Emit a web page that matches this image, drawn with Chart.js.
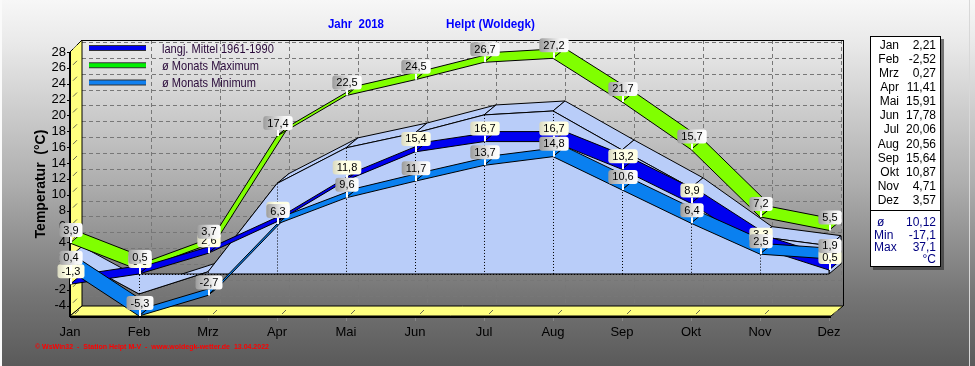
<!DOCTYPE html>
<html>
<head>
<meta charset="utf-8">
<script src="https://cdn.jsdelivr.net/npm/chart.js@4.4.1/dist/chart.umd.min.js"></script>
<style>
  html, body { margin: 0; padding: 0; background: #888; }
  canvas { display: block; }
</style>
</head>
<body>
<canvas id="chart" width="975" height="366"></canvas>
<script>
const months = ['Jan', 'Feb', 'Mrz', 'Apr', 'Mai', 'Jun', 'Jul', 'Aug', 'Sep', 'Okt', 'Nov', 'Dez'];
// Monatsmittel 2018 (Flaeche + Tabelle rechts)
const mean2018 = [2.21, -2.52, 0.27, 11.41, 15.91, 17.78, 20.06, 20.56, 15.64, 10.87, 4.71, 3.57];
const mittel6190 = [-1.3, 0.0, 2.6, 6.6, 11.8, 15.4, 16.7, 16.7, 13.2, 8.9, 3.3, 0.5];
const maxAvg = [3.9, 0.5, 3.7, 17.4, 22.5, 24.5, 26.7, 27.2, 21.7, 15.7, 7.2, 5.5];
const minAvg = [0.4, -5.3, -2.7, 6.3, 9.6, 11.7, 13.7, 14.8, 10.6, 6.4, 2.5, 1.9];
const yTicks = [-4, -2, 0, 2, 4, 6, 8, 10, 12, 14, 16, 18, 20, 22, 24, 26, 28];
const statLabels = ['ø', 'Min', 'Max'];
const statValues = [10.12, -17.1, 37.1];

const DX = 12, DY = -10;   // 3D Tiefe
const FONT = '"Liberation Sans", Arial, sans-serif';

const fmt = (v, d) => v.toFixed(d).replace('.', ',');

function line(ctx, x1, y1, x2, y2) {
  ctx.beginPath();
  ctx.moveTo(x1, y1);
  ctx.lineTo(x2, y2);
  ctx.stroke();
}

function poly(ctx, pts, fill) {
  ctx.beginPath();
  pts.forEach((p, i) => i ? ctx.lineTo(p[0], p[1]) : ctx.moveTo(p[0], p[1]));
  ctx.closePath();
  ctx.fillStyle = fill;
  ctx.fill();
  ctx.stroke();
}

// schmale Schrift nachbilden (keine Narrow-Schrift installiert)
function narrowText(ctx, text, x, y, sx) {
  ctx.save();
  ctx.translate(x, y);
  ctx.scale(sx, 1);
  ctx.fillText(text, 0, 0);
  ctx.restore();
}

function drawRibbon(ctx, pts, color) {
  ctx.strokeStyle = '#000';
  ctx.lineWidth = 1;
  for (let i = 0; i < pts.length - 1; i++) {
    const a = pts[i], b = pts[i + 1];
    poly(ctx, [[a.x, a.y], [b.x, b.y], [b.x + DX, b.y + DY], [a.x + DX, a.y + DY]], color);
  }
}

function drawLabel(ctx, px, py, text, cream) {
  ctx.font = '11px ' + FONT;
  const w = ctx.measureText(text).width + 8, h = 14;
  const cx = px + 1, bottom = py - 6, top = bottom - h, left = cx - w / 2;
  ctx.strokeStyle = '#fff';
  ctx.lineWidth = 2;
  line(ctx, px + 1, bottom, px + 1, py);
  const g = ctx.createLinearGradient(left, 0, left + w, 0);
  if (cream) {
    g.addColorStop(0, '#d8d8c0');
    g.addColorStop(0.35, '#ffffe4');
    g.addColorStop(1, '#ffffe4');
  } else {
    g.addColorStop(0, '#9c9c9c');
    g.addColorStop(0.7, '#f4f4f4');
    g.addColorStop(1, '#ffffff');
  }
  ctx.beginPath();
  ctx.roundRect(left, top, w, h, 3);
  ctx.fillStyle = g;
  ctx.fill();
  ctx.fillStyle = '#000';
  ctx.textAlign = 'center';
  ctx.textBaseline = 'middle';
  ctx.fillText(text, cx, top + h / 2 + 0.5);
}

const klima3d = {
  id: 'klima3d',
  beforeDraw(chart) {
    const { ctx, chartArea: a, scales: { x, y } } = chart;
    ctx.save();
    const bg = ctx.createLinearGradient(0, 0, 0, 366);
    bg.addColorStop(0, '#f7f7f7');
    bg.addColorStop(0.12, '#e9e9e9');
    bg.addColorStop(0.5, '#aeaeae');
    bg.addColorStop(0.8, '#767676');
    bg.addColorStop(1, '#5a5a5a');
    ctx.fillStyle = bg;
    ctx.fillRect(0, 0, 975, 366);

    const bx0 = a.left + DX, bx1 = x.getPixelForValue(months.length - 1) + DX + 2;
    const by0 = a.top + DY - 2, by1 = a.bottom + DY;

    // Gitter an der Rueckwand
    ctx.strokeStyle = '#777';
    ctx.lineWidth = 1;
    ctx.setLineDash([4, 3]);
    yTicks.forEach(v => {
      const yy = Math.round(y.getPixelForValue(v) + DY) + 0.5;
      line(ctx, bx0, yy, bx1, yy);
    });
    for (let i = 1; i < months.length; i++) {
      const xx = Math.round(x.getPixelForValue(i) + DX) + 0.5;
      line(ctx, xx, by0, xx, by1);
    }
    ctx.setLineDash([]);
    ctx.strokeStyle = '#000';
    line(ctx, bx0, by0 + 0.5, bx1, by0 + 0.5);
    line(ctx, bx1 + 0.5, by0, bx1 + 0.5, by1);

    // linke Wand und Boden
    ctx.strokeStyle = '#000';
    poly(ctx, [[a.left, a.top], [bx0, by0], [bx0, by1], [a.left, a.bottom]], '#ffff80');
    poly(ctx, [[a.left, a.bottom], [bx0, by1], [bx1, by1], [bx1 - DX, a.bottom]], '#ffff80');

    ctx.strokeStyle = '#6a6a50';
    for (let i = 0; i < months.length; i++) {
      const xx = x.getPixelForValue(i);
      line(ctx, xx + 5, a.bottom - 2, xx + 9, a.bottom - 6);
    }
    yTicks.forEach(v => {
      const yy = y.getPixelForValue(v);
      line(ctx, a.left + 3, yy - 3, a.left + 7, yy - 7);
    });

    ctx.strokeStyle = '#000';
    ctx.lineWidth = 2;
    line(ctx, a.left, a.top, a.left, a.bottom + 1);
    line(ctx, a.left, a.bottom + 1, bx1 - DX, a.bottom + 1);
    ctx.lineWidth = 1;
    yTicks.forEach(v => {
      const yy = Math.round(y.getPixelForValue(v)) + 0.5;
      line(ctx, a.left - 3, yy, a.left, yy);
    });
    ctx.strokeStyle = '#888';
    for (let i = 0; i < months.length; i++) {
      const xx = Math.round(x.getPixelForValue(i)) + 0.5;
      line(ctx, xx, a.bottom + 2, xx, a.bottom + 5);
    }
    ctx.restore();
  },
  afterDatasetsDraw(chart) {
    const { ctx, scales: { y } } = chart;
    const pts = i => chart.getDatasetMeta(i).data;
    ctx.save();

    // Flaeche Monatsmittel 2018
    const ar = pts(0), y0 = y.getPixelForValue(0);
    ctx.strokeStyle = '#000';
    ctx.lineWidth = 1;
    const areaCol = '#b9cdf9';
    for (let i = 0; i < ar.length - 1; i++) {
      const p = ar[i], q = ar[i + 1];
      poly(ctx, [[p.x, p.y], [q.x, q.y], [q.x + DX, q.y + DY], [p.x + DX, p.y + DY]], areaCol);
    }
    const last = ar[ar.length - 1];
    poly(ctx, [[last.x, last.y], [last.x + DX, last.y + DY], [last.x + DX, y0 + DY], [last.x, y0]], areaCol);
    ctx.beginPath();
    ar.forEach((p, i) => i ? ctx.lineTo(p.x, p.y) : ctx.moveTo(p.x, p.y));
    ctx.lineTo(last.x, y0);
    ctx.lineTo(ar[0].x, y0);
    ctx.closePath();
    ctx.fillStyle = areaCol;
    ctx.fill();
    ctx.stroke();
    ctx.setLineDash([1, 2]);
    line(ctx, ar[0].x, y0 + 0.5, last.x, y0 + 0.5);
    ar.forEach(p => line(ctx, Math.round(p.x) + 0.5, p.y, Math.round(p.x) + 0.5, y0));
    ctx.setLineDash([]);

    // Baender
    drawRibbon(ctx, pts(2), '#80ff00');
    drawRibbon(ctx, pts(1), '#0000f0');
    drawRibbon(ctx, pts(3), '#0a80f0');

    // Werte
    pts(1).forEach((p, i) => drawLabel(ctx, p.x, p.y, fmt(mittel6190[i], 1), true));
    pts(2).forEach((p, i) => drawLabel(ctx, p.x, p.y, fmt(maxAvg[i], 1), false));
    pts(3).forEach((p, i) => drawLabel(ctx, p.x, p.y, fmt(minAvg[i], 1), false));
    ctx.restore();
  },
  afterDraw(chart) {
    const { ctx } = chart;
    ctx.save();

    // Titel
    ctx.fillStyle = '#0000ff';
    ctx.font = 'bold 13px ' + FONT;
    ctx.textBaseline = 'middle';
    ctx.textAlign = 'left';
    narrowText(ctx, 'Jahr  2018', 328, 24, 0.88);
    narrowText(ctx, 'Helpt (Woldegk)', 446, 24, 0.9);

    // Achsentitel
    ctx.save();
    ctx.translate(41, 184);
    ctx.rotate(-Math.PI / 2);
    ctx.fillStyle = '#000';
    ctx.font = 'bold 14px ' + FONT;
    ctx.textAlign = 'center';
    ctx.fillText('Temperatur  (°C)', 0, 0);
    ctx.restore();

    // Legende
    const leg = [
      ['langj. Mittel 1961-1990', '#0000f0'],
      ['ø Monats Maximum', '#00f000'],
      ['ø Monats Minimum', '#1080f0']
    ];
    ctx.font = '13px ' + FONT;
    ctx.textAlign = 'left';
    leg.forEach(([t, c], i) => {
      const yy = 48 + i * 17.3;
      ctx.strokeStyle = '#333';
      ctx.lineWidth = 6;
      line(ctx, 89, yy, 146, yy);
      ctx.strokeStyle = c;
      ctx.lineWidth = 4;
      line(ctx, 89, yy, 146, yy);
      ctx.fillStyle = '#2a0a3a';
      narrowText(ctx, t, 162, yy + 1, 0.85);
    });

    // Tabelle rechts
    ctx.fillStyle = 'rgba(40,40,40,0.6)';
    ctx.fillRect(873, 39, 71, 231);
    ctx.fillStyle = '#fff';
    ctx.fillRect(870, 36, 71, 231);
    ctx.strokeStyle = '#000';
    ctx.lineWidth = 1;
    ctx.strokeRect(870.5, 36.5, 70, 230);
    line(ctx, 870, 210.5, 941, 210.5);
    ctx.font = '12px ' + FONT;
    ctx.fillStyle = '#000';
    months.forEach((m, i) => {
      const yy = 45.5 + i * 14.1;
      ctx.textAlign = 'right';
      ctx.fillText(m, 899, yy);
      ctx.fillText(fmt(mean2018[i], 2), 936, yy);
    });
    ctx.fillStyle = '#000080';
    statLabels.forEach((s, i) => {
      const yy = 223 + i * 12.5;
      ctx.textAlign = 'left';
      ctx.fillText(s, s === 'ø' ? 877 : 874, yy);
      ctx.textAlign = 'right';
      ctx.fillText(fmt(statValues[i], i === 0 ? 2 : 1), 936, yy);
    });
    ctx.fillText('°C', 936, 260);

    // Fusszeile
    ctx.fillStyle = '#ff0000';
    ctx.font = 'bold 7px ' + FONT;
    ctx.textAlign = 'left';
    ctx.fillText('© WsWin32  -  Station Helpt M-V  -  www.woldegk-wetter.de  13.04.2022', 35, 347);

    // Rahmen
    ctx.strokeStyle = '#fafafa';
    ctx.lineWidth = 2;
    line(ctx, 1, 0, 1, 366);
    ctx.strokeStyle = '#d8d8d8';
    ctx.lineWidth = 1;
    line(ctx, 969.5, 0, 969.5, 366);
    ctx.restore();
  }
};

const hidden = { borderWidth: 0, pointRadius: 0, showLine: false };

new Chart(document.getElementById('chart'), {
  type: 'line',
  data: {
    labels: months,
    datasets: [
      { label: 'Mittel 2018', data: mean2018, ...hidden },
      { label: 'langj. Mittel 1961-1990', data: mittel6190, ...hidden },
      { label: 'ø Monats Maximum', data: maxAvg, ...hidden },
      { label: 'ø Monats Minimum', data: minAvg, ...hidden }
    ]
  },
  options: {
    responsive: false,
    devicePixelRatio: 1,
    animation: false,
    layout: { padding: { left: 30, right: 146, top: 52, bottom: 20 } },
    plugins: { legend: { display: false }, tooltip: { enabled: false } },
    scales: {
      x: {
        type: 'category',
        offset: false,
        grid: { display: false, drawTicks: false },
        border: { display: false },
        ticks: { color: '#000', font: { size: 13, family: FONT }, padding: 9, maxRotation: 0, autoSkip: false },
        afterFit: s => { s.height = 30; }
      },
      y: {
        min: -5.3,
        max: 28,
        grid: { display: false, drawTicks: false },
        border: { display: false },
        ticks: { color: '#000', font: { size: 13, family: FONT }, padding: 4, autoSkip: false },
        afterBuildTicks: s => { s.ticks = yTicks.map(v => ({ value: v })); },
        afterFit: s => { s.width = 40; }
      }
    }
  },
  plugins: [klima3d]
});
</script>
</body>
</html>
